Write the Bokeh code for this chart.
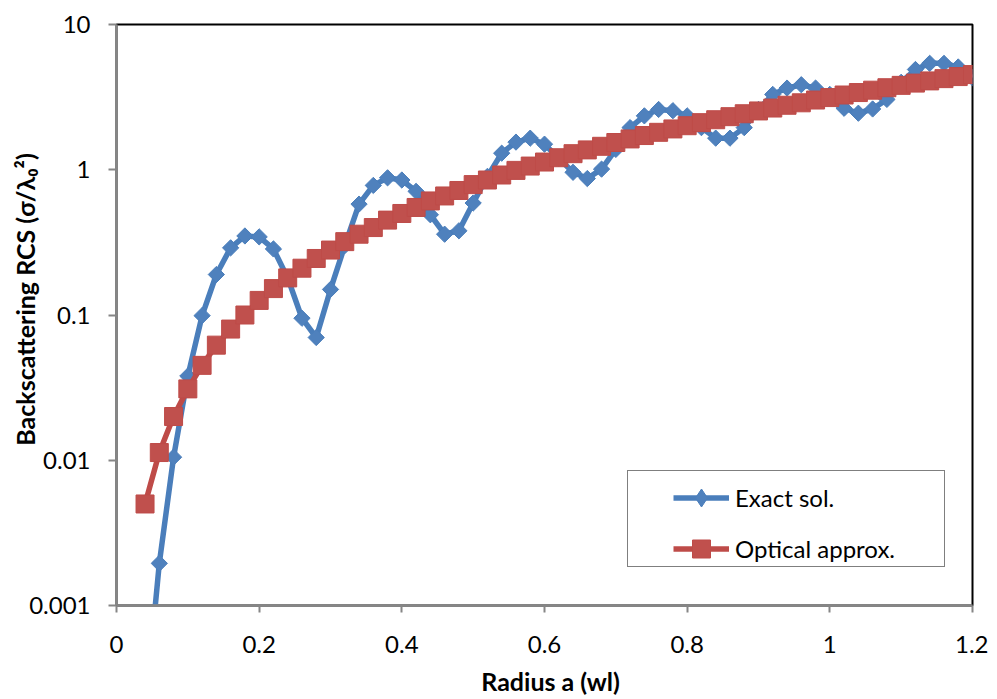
import math
from bokeh.plotting import figure
from bokeh.models import (Range1d, Legend, LegendItem, NumeralTickFormatter,
                          FixedTicker)
from bokeh.embed import file_html
from bokeh.resources import INLINE

# ---- data ----
radius = [0.04, 0.06, 0.08, 0.10, 0.12, 0.14, 0.16, 0.18, 0.20, 0.22,
          0.24, 0.26, 0.28, 0.30, 0.32, 0.34, 0.36, 0.38, 0.40, 0.42,
          0.44, 0.46, 0.48, 0.50, 0.52, 0.54, 0.56, 0.58, 0.60, 0.62,
          0.64, 0.66, 0.68, 0.70, 0.72, 0.74, 0.76, 0.78, 0.80, 0.82,
          0.84, 0.86, 0.88, 0.90, 0.92, 0.94, 0.96, 0.98, 1.00, 1.02,
          1.04, 1.06, 1.08, 1.10, 1.12, 1.14, 1.16, 1.18, 1.20]

exact_sol = [0.00018, 0.00195, 0.0105, 0.038, 0.099, 0.19, 0.29, 0.35, 0.345, 0.285,
             0.18, 0.095, 0.070, 0.15, 0.30, 0.58, 0.78, 0.88, 0.85, 0.71,
             0.49, 0.36, 0.38, 0.59, 0.90, 1.30, 1.55, 1.65, 1.50, 1.20,
             0.96, 0.87, 1.01, 1.38, 1.95, 2.35, 2.60, 2.55, 2.35, 1.95,
             1.65, 1.65, 1.95, 2.60, 3.30, 3.65, 3.85, 3.65, 3.30, 2.65,
             2.45, 2.62, 3.05, 4.00, 4.90, 5.40, 5.40, 5.10, 4.30]

optical_approx = [0.005, 0.0113, 0.020, 0.031, 0.045, 0.062, 0.080, 0.10, 0.126, 0.152,
                  0.18, 0.21, 0.245, 0.28, 0.32, 0.36, 0.40, 0.45, 0.50, 0.55,
                  0.61, 0.66, 0.72, 0.79, 0.85, 0.92, 0.99, 1.06, 1.13, 1.21,
                  1.29, 1.37, 1.45, 1.54, 1.63, 1.72, 1.81, 1.91, 2.01, 2.11,
                  2.21, 2.32, 2.43, 2.54, 2.66, 2.78, 2.89, 3.02, 3.14, 3.27,
                  3.40, 3.53, 3.67, 3.81, 3.95, 4.09, 4.24, 4.38, 4.52]

x_ticks = [0, 0.2, 0.4, 0.6, 0.8, 1.0, 1.2]
y_ticks = [0.001, 0.01, 0.1, 1, 10]

series_names = ["Exact sol.", "Optical approx."]
x_title = "\u00a0\u00a0Radius a (wl)"
y_title = "\u00a0" * 6 + "Backscattering  RCS (\u03c3/\u03bb\u2080\u00b2)"

FONT = "Lato"
BLUE = "#4A7EBB"
BLUE_FILL = "#4F81BD"
RED = "#BE4B48"
RED_FILL = "#C0504D"
GRAY = "#868686"

p = figure(frame_width=856, frame_height=581,
           x_range=Range1d(0, 1.2), y_range=Range1d(0.001, 10),
           y_axis_type="log", output_backend="svg", toolbar_location=None,
           min_border_left=116, min_border_right=16, min_border_top=24,
           min_border_bottom=94)

p.background_fill_color = "white"
p.border_fill_color = "white"
p.outline_line_color = "black"
p.outline_line_width = 2
p.xgrid.grid_line_color = None
p.ygrid.grid_line_color = None

for ax in (p.xaxis[0], p.yaxis[0]):
    ax.axis_line_color = GRAY
    ax.axis_line_width = 2.5
    ax.major_tick_line_color = GRAY
    ax.major_tick_line_width = 2
    ax.major_tick_in = 0
    ax.minor_tick_line_color = None
    ax.major_label_text_font = FONT
    ax.major_label_text_font_size = "24px"
    ax.major_label_text_color = "black"
    ax.axis_label_text_font = FONT
    ax.axis_label_text_font_style = "bold"
    ax.axis_label_text_font_size = "25px"
    ax.axis_label_text_color = "black"

p.xaxis.ticker = FixedTicker(ticks=x_ticks)
p.xaxis.formatter = NumeralTickFormatter(format="0.[0]")
p.xaxis.major_tick_out = 7
p.xaxis.major_label_standoff = 23
p.xaxis.axis_label = x_title
p.xaxis.axis_label_standoff = 10

p.yaxis.ticker = FixedTicker(ticks=y_ticks)
p.yaxis.formatter = NumeralTickFormatter(format="0.[000]")
p.yaxis.major_tick_out = 8
p.yaxis.major_label_standoff = 18
p.yaxis.axis_label = y_title
p.yaxis.axis_label_standoff = -14

# exact solution (blue diamonds)
bl = p.line(radius, exact_sol, line_color=BLUE, line_width=5.5)
bm = p.scatter(radius, exact_sol, marker="square", angle=math.pi / 4, size=11.5,
               fill_color=BLUE_FILL, line_color=BLUE, line_width=1)
# optical approximation (red squares)
rl = p.line(radius, optical_approx, line_color=RED, line_width=5.5)
rm = p.scatter(radius, optical_approx, marker="square", size=18,
               fill_color=RED_FILL, line_color=RED, line_width=1)

# legend sample markers (hidden in the plot, drawn only by the legend)
blue_key = p.scatter(radius, exact_sol, marker="diamond",
                     fill_color=BLUE_FILL, line_color=BLUE, visible=False)
red_key = p.scatter(radius, optical_approx, marker="square",
                    fill_color=RED_FILL, line_color=RED, visible=False)

# legend frame (box only)
dummy = p.scatter(x=[], y=[], size=1, fill_alpha=0, line_alpha=0)
box = Legend(items=[LegendItem(label=" ", renderers=[dummy])],
             location=(511, 38), margin=0, padding=0,
             glyph_width=300, glyph_height=95, label_height=95,
             label_width=16, label_standoff=0,
             border_line_color="black", border_line_width=1.2,
             background_fill_color="white", background_fill_alpha=1)
p.add_layout(box)

legend = Legend(items=[LegendItem(label=series_names[0], renderers=[bl, blue_key]),
                       LegendItem(label=series_names[1], renderers=[rl, red_key])],
                location=(557, 34), margin=0, padding=0, spacing=6,
                glyph_width=56, glyph_height=45, label_height=45,
                label_standoff=6, inactive_fill_alpha=0,
                label_text_font=FONT, label_text_font_size="24px",
                label_text_color="black",
                border_line_color=None, background_fill_alpha=0)
p.add_layout(legend)

open("out.html", "w").write(file_html(p, INLINE))
